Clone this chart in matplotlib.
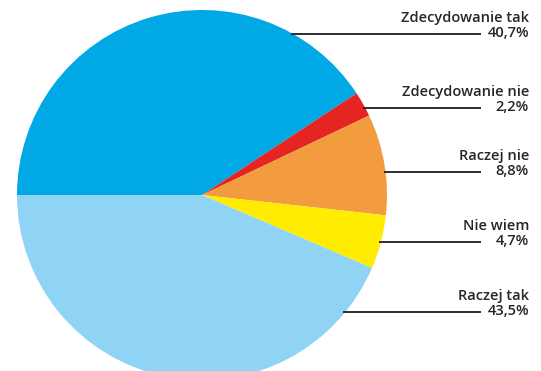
import matplotlib
matplotlib.use('Agg')
import matplotlib.pyplot as plt
import numpy as np

# answers and shares (%)
labels = ['Zdecydowanie tak', 'Zdecydowanie nie', 'Raczej nie', 'Nie wiem', 'Raczej tak']
values = [40.7, 2.2, 8.8, 4.7, 43.5]
pct_text = ['40,7%', '2,2%', '8,8%', '4,7%', '43,5%']
colors = ['#00a8e6', '#e42522', '#f39b3f', '#ffec00', '#8fd4f4']

W, H = 541, 371
fig = plt.figure(figsize=(W / 100, H / 100), dpi=100)
ax = fig.add_axes([0, 0, 1, 1])

cx, cy, r = 202, H - 195, 185
ax.pie(values, colors=colors, startangle=180, counterclock=False,
       center=(cx, cy), radius=r, wedgeprops=dict(linewidth=0))

# label rows (pixel y of the leader line, from the top)
line_y = [34, 108, 172, 242, 312]
text_x = 529
for lab, pt, ly in zip(labels, pct_text, line_y):
    y = H - ly
    x0 = cx + np.sqrt(r ** 2 - (y - cy) ** 2) - 2
    ax.plot([x0, 481], [y, y], color='#1e1e1e', lw=1.3, solid_capstyle='butt')
    ax.text(text_x, y + 1, pt, ha='right', va='center', fontsize=10.5,
            family='Open Sans', weight='semibold', color='#262626')
    ax.text(text_x, y + 16, lab, ha='right', va='center', fontsize=10.5,
            family='Open Sans', weight='semibold', color='#262626')

ax.set_xlim(0, W)
ax.set_ylim(0, H)
ax.set_aspect('equal')
ax.axis('off')
fig.savefig('out.png', dpi=100)
